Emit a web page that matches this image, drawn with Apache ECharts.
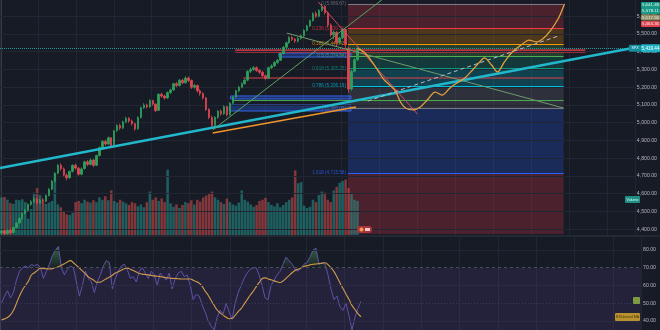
<!DOCTYPE html>
<html><head><meta charset="utf-8">
<script src="https://cdn.jsdelivr.net/npm/echarts@6/dist/echarts.min.js"></script>
<style>html,body{margin:0;padding:0;background:#171b26;}#c{width:660px;height:330px;}</style>
</head><body><div id="c"></div>
<script>
// ---------- DATA ----------
// candles: [open, close, low, high]
const candles = [
[4380,4390,4368,4398],[4392,4375,4366,4400],[4374,4395,4370,4402],[4396,4380,4372,4404],[4382,4410,4378,4416],
[4410,4435,4404,4442],[4436,4460,4430,4468],[4460,4490,4452,4496],[4490,4505,4482,4515],[4506,4540,4500,4546],
[4540,4555,4532,4565],[4556,4570,4548,4580],[4570,4548,4540,4576],[4548,4565,4542,4572],[4566,4558,4546,4575],
[4558,4590,4552,4596],[4590,4625,4585,4632],[4626,4670,4620,4678],[4670,4715,4664,4722],[4716,4760,4710,4768],
[4760,4740,4730,4772],[4740,4705,4698,4748],[4704,4690,4676,4715],[4690,4725,4684,4732],[4726,4760,4720,4766],
[4760,4745,4736,4770],[4744,4710,4702,4750],[4710,4740,4704,4748],[4742,4780,4736,4786],[4780,4765,4755,4790],
[4765,4790,4760,4798],[4790,4760,4750,4795],[4760,4815,4756,4820],[4815,4860,4810,4866],[4860,4895,4852,4902],
[4895,4880,4870,4905],[4880,4915,4874,4922],[4915,4870,4862,4920],[4872,4955,4868,4960],[4955,4985,4948,4992],
[4985,4970,4960,4994],[4970,5005,4964,5012],[5005,5025,4998,5034],[5025,5010,5000,5032],[5010,4995,4984,5018],
[4995,4965,4955,5000],[4966,5030,4960,5036],[5030,5085,5024,5090],[5085,5100,5078,5110],[5100,5090,5080,5108],
[5090,5125,5084,5132],[5125,5105,5096,5130],[5105,5068,5060,5110],[5070,5160,5066,5166],[5160,5150,5140,5170],
[5150,5140,5130,5158],[5140,5170,5134,5176],[5170,5185,5162,5192],[5185,5220,5180,5226],[5220,5210,5200,5230],
[5210,5240,5204,5246],[5240,5225,5216,5248],[5225,5252,5220,5262],[5252,5238,5228,5260],[5238,5200,5190,5244],
[5200,5210,5192,5220],[5210,5180,5170,5216],[5180,5165,5152,5188],[5165,5140,5130,5172],[5140,5075,5066,5146],
[5075,5030,5020,5082],[5030,4985,4970,5040],[4985,5030,4978,5038],[5030,5065,5022,5072],[5065,5050,5040,5075],
[5050,5090,5044,5098],[5090,5045,5036,5095],[5045,5110,5040,5116],[5110,5145,5104,5150],[5145,5180,5140,5186],
[5180,5200,5172,5208],[5200,5220,5194,5228],[5220,5240,5214,5246],[5240,5290,5234,5296],[5290,5300,5280,5312],
[5300,5310,5292,5320],[5310,5295,5286,5318],[5295,5285,5274,5302],[5285,5265,5256,5292],[5265,5250,5240,5272],
[5250,5310,5246,5316],[5310,5320,5302,5330],[5320,5340,5314,5348],[5340,5352,5332,5360],[5352,5390,5348,5396],
[5390,5425,5384,5432],[5425,5450,5420,5458],[5450,5480,5444,5488],[5480,5470,5460,5490],[5470,5460,5450,5478],
[5460,5475,5452,5484],[5475,5490,5468,5498],[5490,5520,5484,5528],[5520,5545,5514,5552],[5545,5575,5540,5582],
[5575,5615,5570,5622],[5615,5600,5590,5628],[5600,5632,5594,5640],[5632,5655,5626,5669.67],[5655,5620,5610,5664],
[5620,5550,5540,5626],[5550,5495,5485,5560],[5495,5510,5470,5520],[5510,5452,5430,5516],[5452,5478,5440,5486],
[5478,5525,5470,5534],[5525,5440,5420,5530],[5420,5190,5170,5430],[5190,5290,5180,5300],[5290,5355,5284,5366],
[5355,5419.44,5348,5430]
];
const volumes = [
160,162,150,136,132,150,148,152,140,70,110,180,200,170,140,132,138,145,262,130,
118,100,88,85,95,140,145,136,150,142,138,148,140,160,150,165,148,190,145,138,
150,142,135,128,140,135,122,130,118,140,185,150,160,145,155,140,278,135,120,130,
115,128,140,135,148,130,150,142,160,168,175,185,160,150,140,132,155,140,130,125,
138,190,150,142,130,120,128,145,150,158,140,128,122,135,118,128,140,150,160,275,
220,225,125,115,120,150,140,170,185,180,150,140,190,205,222,230,236,200,175,150,145
];
const rsi = [
50,54,57,53,56,63,68,70,71,70,72,71,72,70,64,68,72,77,80,82,
70,66,69,71,70,62,54,60,68,64,62,56,62,66,71,74,73,58,64,68,
71,72,69,64,65,62,68,70,67,64,68,66,60,67,65,63,67,58,64,67,
68,65,66,60,52,55,54,49,45,40,37,35,42,46,44,50,45,41,50,56,
60,64,67,69,70,70,66,60,53,52,60,63,66,68,72,76,74,72,69,68,
70,72,73,76,80,81,72,73,72,66,58,52,54,48,46,50,43,35,42,47,51
];
const rsiMA = [
40.6,41.2,42.0,43.4,46,50,54,57.5,60,62.5,65.9,67.2,68.5,69.7,69.6,69.4,69.3,69.5,70.1,70.6,
71.4,72.3,73.3,74,72.8,71.3,69.8,68.2,66.6,64.9,63.8,62.7,61.8,61.9,62.8,63.8,64.7,65.8,67.0,67.8,
68.6,69.4,69.8,69.2,68.4,67.6,66.8,66.4,66.2,66.0,65.7,65.4,65.2,65.0,64.7,64.4,64.2,64.0,63.9,63.8,
63.7,63.7,63.7,63.7,63.0,62.2,61.3,59.5,56.8,54.5,51.5,48.8,46.2,44.6,43.3,42.1,41.3,41.5,43.2,45.3,
47.0,49.5,52.0,54.5,56.7,59.2,61.6,63.8,64.3,63.7,63.2,62.6,62.1,61.7,62.5,64.0,65.6,67.2,68.5,69.2,
69.9,70.7,71.2,71.6,72.0,72.1,72.3,72.5,72.8,71.8,69.9,67.8,64.8,61.5,58.3,55.2,52.2,48.8,46.5,44.2,42.4
];
// projected path [barIndex, price]
const projection = [
[120,5419.44],[122.2,5398],[124.5,5353],[126.8,5297],[128.8,5246],[131.2,5207],[132.8,5179],[134.5,5117],
[136.2,5083],[138.8,5072],[141.2,5089],[143.5,5128],[146.2,5173],[148.5,5156],[151.2,5196],[153.5,5224],
[156.2,5252],[158.8,5297],[161.2,5342],[162.8,5365],[165.2,5325],[167.2,5286],[169.5,5342],[172.2,5399],
[175.2,5438],[177.8,5466],[180.5,5455],[182.8,5477],[185.2,5522],[187.8,5590],[189.8,5669]
];
const priceTicks = [4400,4500,4600,4700,4800,4900,5000,5100,5200,5300,5400,5500,5600];
const rsiTicks = [40,50,60,70,80];
const fibLevels = ['0','0.236','0.382','0.5','0.618','0.786','1','1.618'];
const fibPrices = [5669.67,5530.51,5444.42,5374.84,5305.25,5206.19,5080.00,4715.58];
const fibColors = ['#787b86','#f23645','#ff9800','#4caf50','#089981','#00bcd4','#787b86','#2962ff','#f23645'];
const fibRange = [116.8, 189.5];
// drawn trend lines [barIndex, price]
const supportLine = [[-0.5,4745],[212.8,5421]];
const orangeLine = [[71.2,4942],[119.5,5089]];
const riseLine = [[71.2,4959],[130,5715]];
const fallLine = [[96.2,5505],[189.5,5083]];
const redDiag = [[106.8,5680],[140.2,5049]];
const dashLine = [[123.5,5122],[187.8,5489]];
const redBar = [[78.8,5404],[196.8,5404]];
const redThin = [[81.5,5252],[189.5,5252]];
const greenThin = [[77.8,5125],[189.5,5125]];
const blueZones = [[93.5,5393,117.8,5370],[77.2,5151,117.8,5134],[76.8,5100,117.8,5066]];
const lastPrice = 5419.44;
const topTags = [['5,641.48','#149a86'],['5,578.11','#149a86'],['5,517.56','#8f8a60'],['5,464.36','#e0434f']];

// ---------- CHART ----------
const N = 214;
const PMIN = 4367.6, PMAX = 5691.5, RMIN = 34.93, RMAX = 87.32;
const FONT = 'Liberation Sans, Roboto, sans-serif';
const cats = Array.from({length:N},(_,i)=>String(i));
const UP = '#2ea05a', DOWN = '#e04652';
const fmt = v => v.toLocaleString('en-US',{minimumFractionDigits:2,maximumFractionDigits:2});
function rgba(hex,a){const n=parseInt(hex.slice(1),16);return `rgba(${n>>16},${(n>>8)&255},${n&255},${a})`;}
const chart = echarts.init(document.getElementById('c'));

function seg(pts,color,width,type,z){
  return {type:'line',xAxisIndex:1,yAxisIndex:0,data:pts,symbol:'none',silent:true,animation:false,
    lineStyle:{color:color,width:width,type:type||'solid'},z:z||4};
}

const fibAreas = [];
for(let k=0;k<fibPrices.length;k++){
  const bottom = k+1<fibPrices.length ? fibPrices[k+1] : PMIN+6;
  fibAreas.push([{coord:[fibRange[0],fibPrices[k]],itemStyle:{color:rgba(fibColors[k+1],0.24)}},{coord:[fibRange[1],bottom]}]);
}
const fibLines = fibPrices.map((p,k)=>[
  {coord:[fibRange[0],p],lineStyle:{color:fibColors[k],width:1,type:'solid'},
   label:{show:true,position:'start',distance:2,formatter:fibLevels[k]+' ('+fmt(p)+')',color:rgba(fibColors[k],0.8),fontSize:4.6,fontFamily:FONT}},
  {coord:[fibRange[1],p]}
]);

const series = [
  {type:'line',xAxisIndex:1,yAxisIndex:0,data:[],silent:true,z:0,
   markLine:{silent:true,symbol:['none','none'],animation:false,label:{show:false},
     lineStyle:{color:'#222633',width:1,type:'solid'},data:priceTicks.map(v=>({yAxis:v}))}},
  {type:'line',xAxisIndex:1,yAxisIndex:0,data:[[fibRange[0],fibPrices[0]],[fibRange[1],fibPrices[0]]],
   symbol:'none',lineStyle:{width:0},silent:true,z:1,
   markArea:{silent:true,animation:false,data:fibAreas},
   markLine:{silent:true,symbol:['none','none'],animation:false,data:fibLines}},
  {type:'line',xAxisIndex:1,yAxisIndex:0,data:[],silent:true,z:2,
   markArea:{silent:true,animation:false,data:blueZones.map(b=>[
     {coord:[b[0],b[1]],itemStyle:{color:'rgba(41,98,255,0.32)',borderColor:'rgba(60,110,255,0.85)',borderWidth:1}},
     {coord:[b[2],b[3]]}])}},
  {type:'bar',xAxisIndex:0,yAxisIndex:1,barWidth:'85%',silent:true,z:1,animation:false,
   data:volumes.map((v,i)=>({value:v,itemStyle:{color:candles[i][1]>=candles[i][0]?'rgba(38,166,154,0.5)':'rgba(239,83,80,0.5)'}}))},
  seg(redBar,'#b8333f',3.5,'solid',3),
  seg(redThin,'#e0404a',1,'solid',3),
  seg(greenThin,'#4caf50',1,'solid',3),
  {type:'candlestick',xAxisIndex:0,yAxisIndex:0,data:candles,barWidth:2,silent:true,z:5,animation:false,
   itemStyle:{color:UP,color0:DOWN,borderColor:UP,borderColor0:DOWN,borderWidth:0.8},
   markLine:{silent:true,symbol:['none','none'],animation:false,label:{show:false},
     lineStyle:{color:'#1e9a9a',width:1,type:'dotted'},data:[{yAxis:lastPrice}]}},
  seg(supportLine,'#22b8cc',2.4,'solid',6),
  seg(orangeLine,'#f0962a',1.4,'solid',6),
  seg(riseLine,'#58a45c',1,'solid',6),
  seg(fallLine,'#6f9a6a',1,'solid',6),
  seg(redDiag,'#d8475a',1,'solid',6),
  seg(dashLine,'#b8bcc6',1,[4,3],6),
  {type:'line',xAxisIndex:1,yAxisIndex:0,data:projection,symbol:'none',smooth:0.3,silent:true,z:7,animation:false,
   lineStyle:{color:'#e0a040',width:1.3}},
  {type:'line',xAxisIndex:2,yAxisIndex:2,data:rsi.map(v=>Math.max(v,70)),symbol:'none',silent:true,z:2,animation:false,
   lineStyle:{width:0},
   areaStyle:{origin:70,color:new echarts.graphic.LinearGradient(0,0,0,1,[{offset:0,color:'rgba(76,175,80,0.75)'},{offset:1,color:'rgba(76,175,80,0.05)'}])},
   markArea:{silent:true,animation:false,data:[[{yAxis:70,itemStyle:{color:'rgba(126,87,194,0.13)'}},{yAxis:RMIN}]]},
   markLine:{silent:true,symbol:['none','none'],animation:false,label:{show:false},data:[
     {yAxis:80,lineStyle:{color:'#222633',type:'solid',width:1}},
     {yAxis:70,lineStyle:{color:'#4a4d5a',type:[3,3],width:1}},
     {yAxis:60,lineStyle:{color:'#2a2a40',type:'solid',width:1}},
     {yAxis:50,lineStyle:{color:'#3a3a55',type:[1,2],width:1}},
     {yAxis:40,lineStyle:{color:'#2a2a40',type:'solid',width:1}}]}},
  {type:'line',xAxisIndex:2,yAxisIndex:2,data:rsi,symbol:'none',silent:true,z:3,animation:false,
   lineStyle:{color:'#5f52a8',width:1}},
  {type:'line',xAxisIndex:2,yAxisIndex:2,data:rsiMA,symbol:'none',smooth:true,silent:true,z:4,animation:false,
   lineStyle:{color:'#d09a4c',width:1.1}}
];

const hidden = {axisLine:{show:false},axisTick:{show:false},axisLabel:{show:false},splitLine:{show:false}};
const vgrid = {type:'value',min:0,max:641,interval:38.3,axisLine:{show:false},axisTick:{show:false},axisLabel:{show:false},
  splitLine:{show:true,lineStyle:{color:'#222633',width:1}}};
chart.setOption({
  animation:false,
  backgroundColor:'#171b26',
  grid:[{left:0,right:19,top:0,height:235},{left:0,right:19,top:237,height:93}],
  xAxis:[
    Object.assign({type:'category',gridIndex:0,data:cats,boundaryGap:true},hidden),
    Object.assign({type:'value',gridIndex:0,min:-0.5,max:N-0.5},hidden),
    Object.assign({type:'category',gridIndex:1,data:cats,boundaryGap:true},hidden),
    Object.assign({gridIndex:0},vgrid),
    Object.assign({gridIndex:1},vgrid)
  ],
  yAxis:[
    {type:'value',gridIndex:0,position:'right',min:PMIN,max:PMAX,scale:true,
     axisLine:{show:true,lineStyle:{color:'#363a45'}},axisTick:{show:false},splitLine:{show:false},
     axisLabel:{customValues:priceTicks,formatter:v=>fmt(v),color:'#b2b5be',fontSize:5.2,fontFamily:FONT,margin:2}},
    Object.assign({type:'value',gridIndex:0,min:0,max:1000},hidden),
    {type:'value',gridIndex:1,position:'right',min:RMIN,max:RMAX,
     axisLine:{show:true,lineStyle:{color:'#363a45'}},axisTick:{show:false},splitLine:{show:false},
     axisLabel:{customValues:rsiTicks,formatter:v=>v.toFixed(2),color:'#b2b5be',fontSize:5.2,fontFamily:FONT,margin:2}}
  ],
  series:series
});

// ---------- TAGS ----------
const yLast = chart.convertToPixel({yAxisIndex:0},lastPrice);
function tag(x,y,w,h,fill,text,color,size){
  return {type:'group',children:[
    {type:'rect',shape:{x:x,y:y,width:w,height:h,r:1},style:{fill:fill},z:100},
    {type:'text',style:{x:x+w/2,y:y+h/2,text:text,fill:color||'#ffffff',font:(size||4.6)+'px '+FONT,align:'center',verticalAlign:'middle'},z:101}
  ]};
}
const g = [
  {type:'line',shape:{x1:0,y1:236,x2:660,y2:236},style:{stroke:'#2a2e39',lineWidth:1.5},z:50}
];
topTags.forEach((t,k)=>g.push(tag(641,[2,8,14.5,21][k],19,6,t[1],t[0],'#f0f0f0',4.4)));
g.push(tag(629,yLast-3.5,12,7,'#168f9c','SPX','#e8ffff',3.6));
g.push(tag(641,yLast-4,19,8,'#1fb2c4','5,419.44','#ffffff',4.6));
g.push(tag(625,196,15,7,'#1f8f86','Volume','#d9fff9',3.6));
g.push({type:'rect',shape:{x:633,y:297,width:7,height:7,r:1},style:{fill:'#7d9a45'},z:100});
g.push(tag(615,313,25,8,'#b8902e','RSI-based MA','#4a3208',3.6));
g.push({type:'rect',shape:{x:357,y:226,width:15,height:7,r:3},style:{fill:'#a8323c'},z:100});
g.push({type:'circle',shape:{cx:361.5,cy:229.5,r:2},style:{fill:'#f0a04b'},z:101});
g.push({type:'rect',shape:{x:365,y:228,width:5,height:3},style:{fill:'#f3c9c9'},z:101});
chart.setOption({graphic:g});
</script></body></html>
